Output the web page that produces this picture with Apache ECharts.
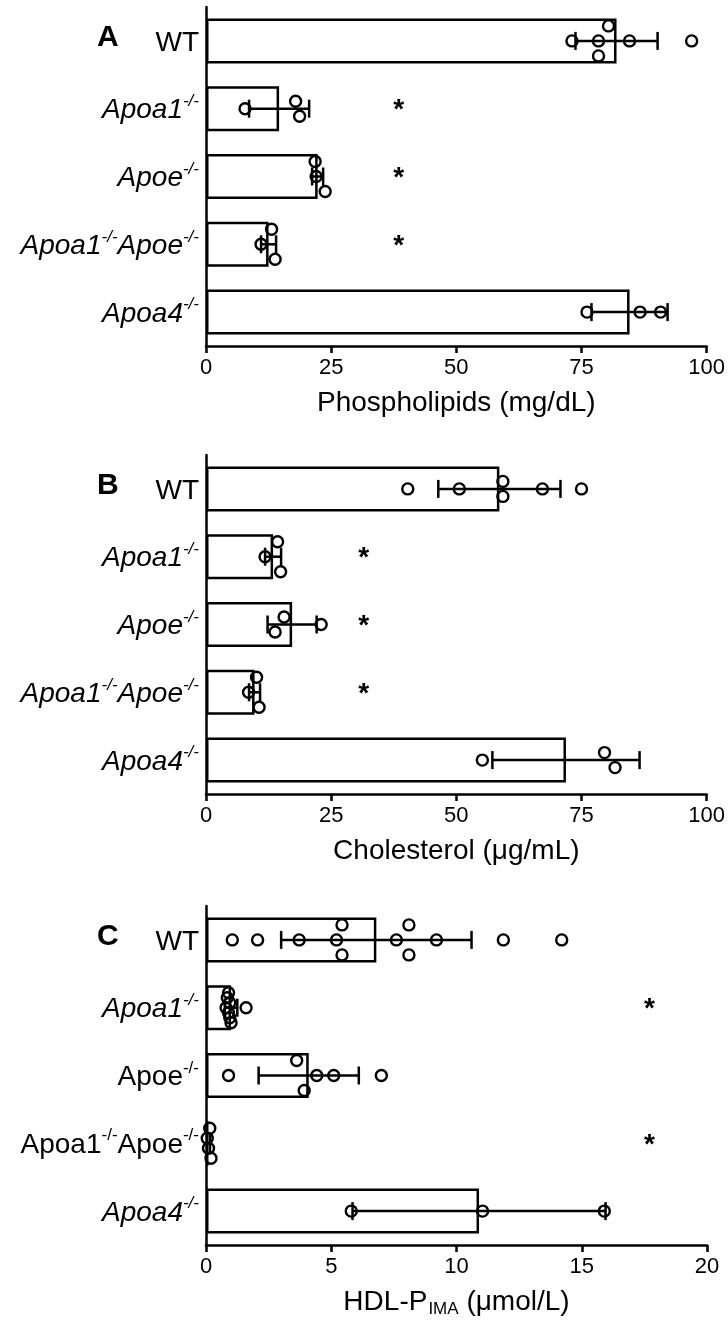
<!DOCTYPE html>
<html>
<head>
<meta charset="utf-8">
<script src="https://cdn.jsdelivr.net/npm/echarts@6/dist/echarts.min.js"></script>
<style>
  html, body { margin: 0; padding: 0; background: #fff; }
  #chart { width: 728px; height: 1330px; }
</style>
</head>
<body>
<div id="chart"></div>
<script>
  // groups, top to bottom
  const groupsAB = ['WT', 'Apoa1-/-', 'Apoe-/-', 'Apoa1-/-Apoe-/-', 'Apoa4-/-'];
  const italicAB = [false, true, true, true, true];
  const italicC = [false, true, false, false, true];

  // A: phospholipids (mg/dL)
  const phosMean = [82.0, 14.6, 22.3, 12.5, 84.6];
  const phosSD = [8.2, 6.0, 1.1, 1.5, 7.6];
  const phosPts = [
    [73.1, 80.4, 78.4, 78.4, 84.6, 97.0],
    [7.8, 17.9, 18.7],
    [21.8, 22.0, 23.8],
    [13.1, 11.0, 13.8],
    [76.1, 86.7, 90.8]
  ];
  const phosStarX = 38.5;
  const phosStarRows = [1, 2, 3];

  // B: cholesterol (ug/mL)
  const cholMean = [58.6, 13.4, 17.2, 9.7, 71.9];
  const cholSD = [12.2, 1.6, 4.9, 1.1, 14.7];
  const cholPts = [
    [40.3, 50.6, 59.3, 59.3, 67.2, 75.0],
    [14.3, 11.8, 14.9],
    [15.6, 13.8, 23.0],
    [10.1, 8.5, 10.6],
    [55.2, 79.6, 81.7]
  ];
  const cholStarX = 31.5;
  const cholStarRows = [1, 2, 3];

  // C: HDL-P IMA (umol/L)
  const hdlMean = [6.8, 1.0, 4.1, 0.1, 10.9];
  const hdlSD = [3.8, 0.25, 2.0, 0.06, 5.05];
  const hdlPts = [
    [1.05, 2.06, 3.72, 5.43, 5.21, 5.43, 8.1, 7.6, 8.1, 9.2, 11.87, 14.2],
    [0.9, 0.85, 0.95, 0.8, 0.9, 0.95, 1.0, 1.6],
    [0.9, 3.62, 4.42, 3.92, 5.1, 7.0],
    [0.15, 0.05, 0.1, 0.2],
    [5.8, 11.04, 15.9]
  ];
  const hdlStarX = 17.7;
  const hdlStarRows = [1, 3];

  const FONT = '"Liberation Sans", Arial, Helvetica, sans-serif';
  const GRID_LEFT = 206, GRID_W = 501, GRID_H = 339;
  const STEP = GRID_H / 5;

  const panels = [
    { letter: 'A', top: 7, max: 100, interval: 25, mean: phosMean, sd: phosSD, pts: phosPts,
      starX: phosStarX, starRows: phosStarRows, italic: italicAB,
      name: '{n|Phospholipids (mg/dL)}' },
    { letter: 'B', top: 455, max: 100, interval: 25, mean: cholMean, sd: cholSD, pts: cholPts,
      starX: cholStarX, starRows: cholStarRows, italic: italicAB,
      name: '{n|Cholesterol (μg/mL)}' },
    { letter: 'C', top: 906, max: 20, interval: 5, mean: hdlMean, sd: hdlSD, pts: hdlPts,
      starX: hdlStarX, starRows: hdlStarRows, italic: italicC,
      name: '{n|HDL-P}{b|IMA}{n| (μmol/L)}' }
  ];

  // Prism-like spreading of points that would overlap
  function spread(vals, pxPerUnit) {
    const D = 13, S = 15, MAXSPREAD = 30;
    const order = vals.map((v, i) => i).sort((a, b) => vals[a] - vals[b]);
    const clusters = [];
    let cur = [order[0]];
    for (let k = 1; k < order.length; k++) {
      if ((vals[order[k]] - vals[order[k - 1]]) * pxPerUnit < D) cur.push(order[k]);
      else { clusters.push(cur); cur = [order[k]]; }
    }
    clusters.push(cur);
    const off = vals.map(() => 0);
    clusters.forEach(c => {
      c.sort((a, b) => a - b);
      const n = c.length;
      const sp = n > 1 ? Math.min(S, MAXSPREAD / (n - 1)) : 0;
      c.forEach((idx, j) => { off[idx] = (j - (n - 1) / 2) * sp; });
    });
    return off;
  }

  function labelFmt(italic) {
    return (val, idx) => {
      const pre = italic[idx] ? 'i' : 'r';
      const sup = italic[idx] ? 'si' : 's';
      return val.split(/(-\/-)/).filter(p => p).map(p =>
        p === '-/-' ? '{' + sup + '|-/-}' : '{' + pre + '|' + p + '}').join('');
    };
  }

  const grid = [], xAxis = [], yAxis = [], series = [], graphic = [];

  panels.forEach((p, k) => {
    grid.push({ left: GRID_LEFT, top: p.top, width: GRID_W, height: GRID_H, containLabel: false });
    xAxis.push({
      type: 'value', gridIndex: k, min: 0, max: p.max, interval: p.interval,
      axisLine: { show: true, onZero: false, lineStyle: { color: '#000', width: 2.5 } },
      axisTick: { show: true, length: 7, lineStyle: { color: '#000', width: 2.5 } },
      splitLine: { show: false },
      axisLabel: { color: '#000', fontSize: 22, fontFamily: FONT, margin: 11 },
      name: p.name, nameLocation: 'middle', nameGap: 43,
      nameTextStyle: {
        rich: {
          n: { fontSize: 28, fontFamily: FONT, color: '#000', lineHeight: 30, verticalAlign: 'top' },
          b: { fontSize: 17, fontFamily: FONT, color: '#000', lineHeight: 17, padding: [21, 0, 0, 1], verticalAlign: 'bottom' }
        }
      }
    });
    yAxis.push({
      type: 'category', gridIndex: k, data: groupsAB, inverse: true,
      axisLine: { show: true, onZero: false, lineStyle: { color: '#000', width: 2.5 } },
      axisTick: { show: false },
      axisLabel: {
        margin: 7, formatter: labelFmt(p.italic),
        rich: {
          r: { fontSize: 28, fontFamily: FONT, color: '#000', lineHeight: 32, verticalAlign: 'bottom' },
          i: { fontSize: 28, fontFamily: FONT, fontStyle: 'italic', color: '#000', lineHeight: 32, verticalAlign: 'bottom' },
          s: { fontSize: 17, fontFamily: FONT, color: '#000', lineHeight: 17, verticalAlign: 'top' },
          si: { fontSize: 17, fontFamily: FONT, fontStyle: 'italic', color: '#000', lineHeight: 17, verticalAlign: 'top' }
        }
      }
    });
    // hidden numeric row axis for points and error bars
    yAxis.push({ type: 'value', gridIndex: k, min: -0.5, max: 4.5, inverse: true, show: false });

    const pxPerUnit = GRID_W / p.max;
    const catAxis = 2 * k, rowAxis = 2 * k + 1;

    series.push({
      type: 'bar', xAxisIndex: k, yAxisIndex: catAxis, barWidth: 45, silent: true,
      itemStyle: { color: '#fff', borderColor: '#000', borderWidth: 2.5 },
      data: p.mean, z: 2
    });

    series.push({
      type: 'custom', xAxisIndex: k, yAxisIndex: rowAxis, silent: true, z: 3,
      data: p.mean.map((m, i) => [m - p.sd[i], m + p.sd[i], i]),
      encode: { x: [0, 1], y: 2 },
      renderItem: (params, api) => {
        const a = api.coord([api.value(0), api.value(2)]);
        const b = api.coord([api.value(1), api.value(2)]);
        const st = { stroke: '#000', lineWidth: 2.5 };
        return {
          type: 'group', children: [
            { type: 'line', shape: { x1: Math.max(a[0], GRID_LEFT), y1: a[1], x2: b[0], y2: b[1] }, style: st },
            { type: 'line', shape: { x1: a[0], y1: a[1] - 9, x2: a[0], y2: a[1] + 9 }, style: st, invisible: a[0] < GRID_LEFT + 3 },
            { type: 'line', shape: { x1: b[0], y1: b[1] - 9, x2: b[0], y2: b[1] + 9 }, style: st }
          ]
        };
      }
    });

    const pts = [];
    p.pts.forEach((vals, i) => {
      const off = spread(vals, pxPerUnit);
      vals.forEach((v, j) => pts.push([v, i + off[j] / STEP]));
    });
    series.push({
      type: 'scatter', xAxisIndex: k, yAxisIndex: rowAxis, silent: true, z: 4,
      symbol: 'circle', symbolSize: 11,
      itemStyle: { color: 'rgba(255,255,255,0)', borderColor: '#000', borderWidth: 2.4, opacity: 1 },
      data: pts
    });

    series.push({
      type: 'custom', xAxisIndex: k, yAxisIndex: rowAxis, silent: true, z: 5,
      data: p.starRows.map(r => [p.starX, r]),
      renderItem: (params, api) => {
        const c = api.coord([api.value(0), api.value(1)]);
        return {
          type: 'text', x: c[0], y: c[1] + 2,
          style: { text: '*', fontSize: 28, fontWeight: 'bold', fontFamily: FONT, fill: '#000', align: 'center', verticalAlign: 'middle' }
        };
      }
    });

    graphic.push({
      type: 'text', left: 97, top: p.top + STEP / 2 - 18,
      style: { text: p.letter, fontSize: 30, fontWeight: 'bold', fontFamily: FONT, fill: '#000' }
    });
  });

  const chart = echarts.init(document.getElementById('chart'), null, { renderer: 'canvas' });
  chart.setOption({
    animation: false,
    backgroundColor: '#fff',
    grid, xAxis, yAxis, series, graphic
  });
</script>
</body>
</html>
